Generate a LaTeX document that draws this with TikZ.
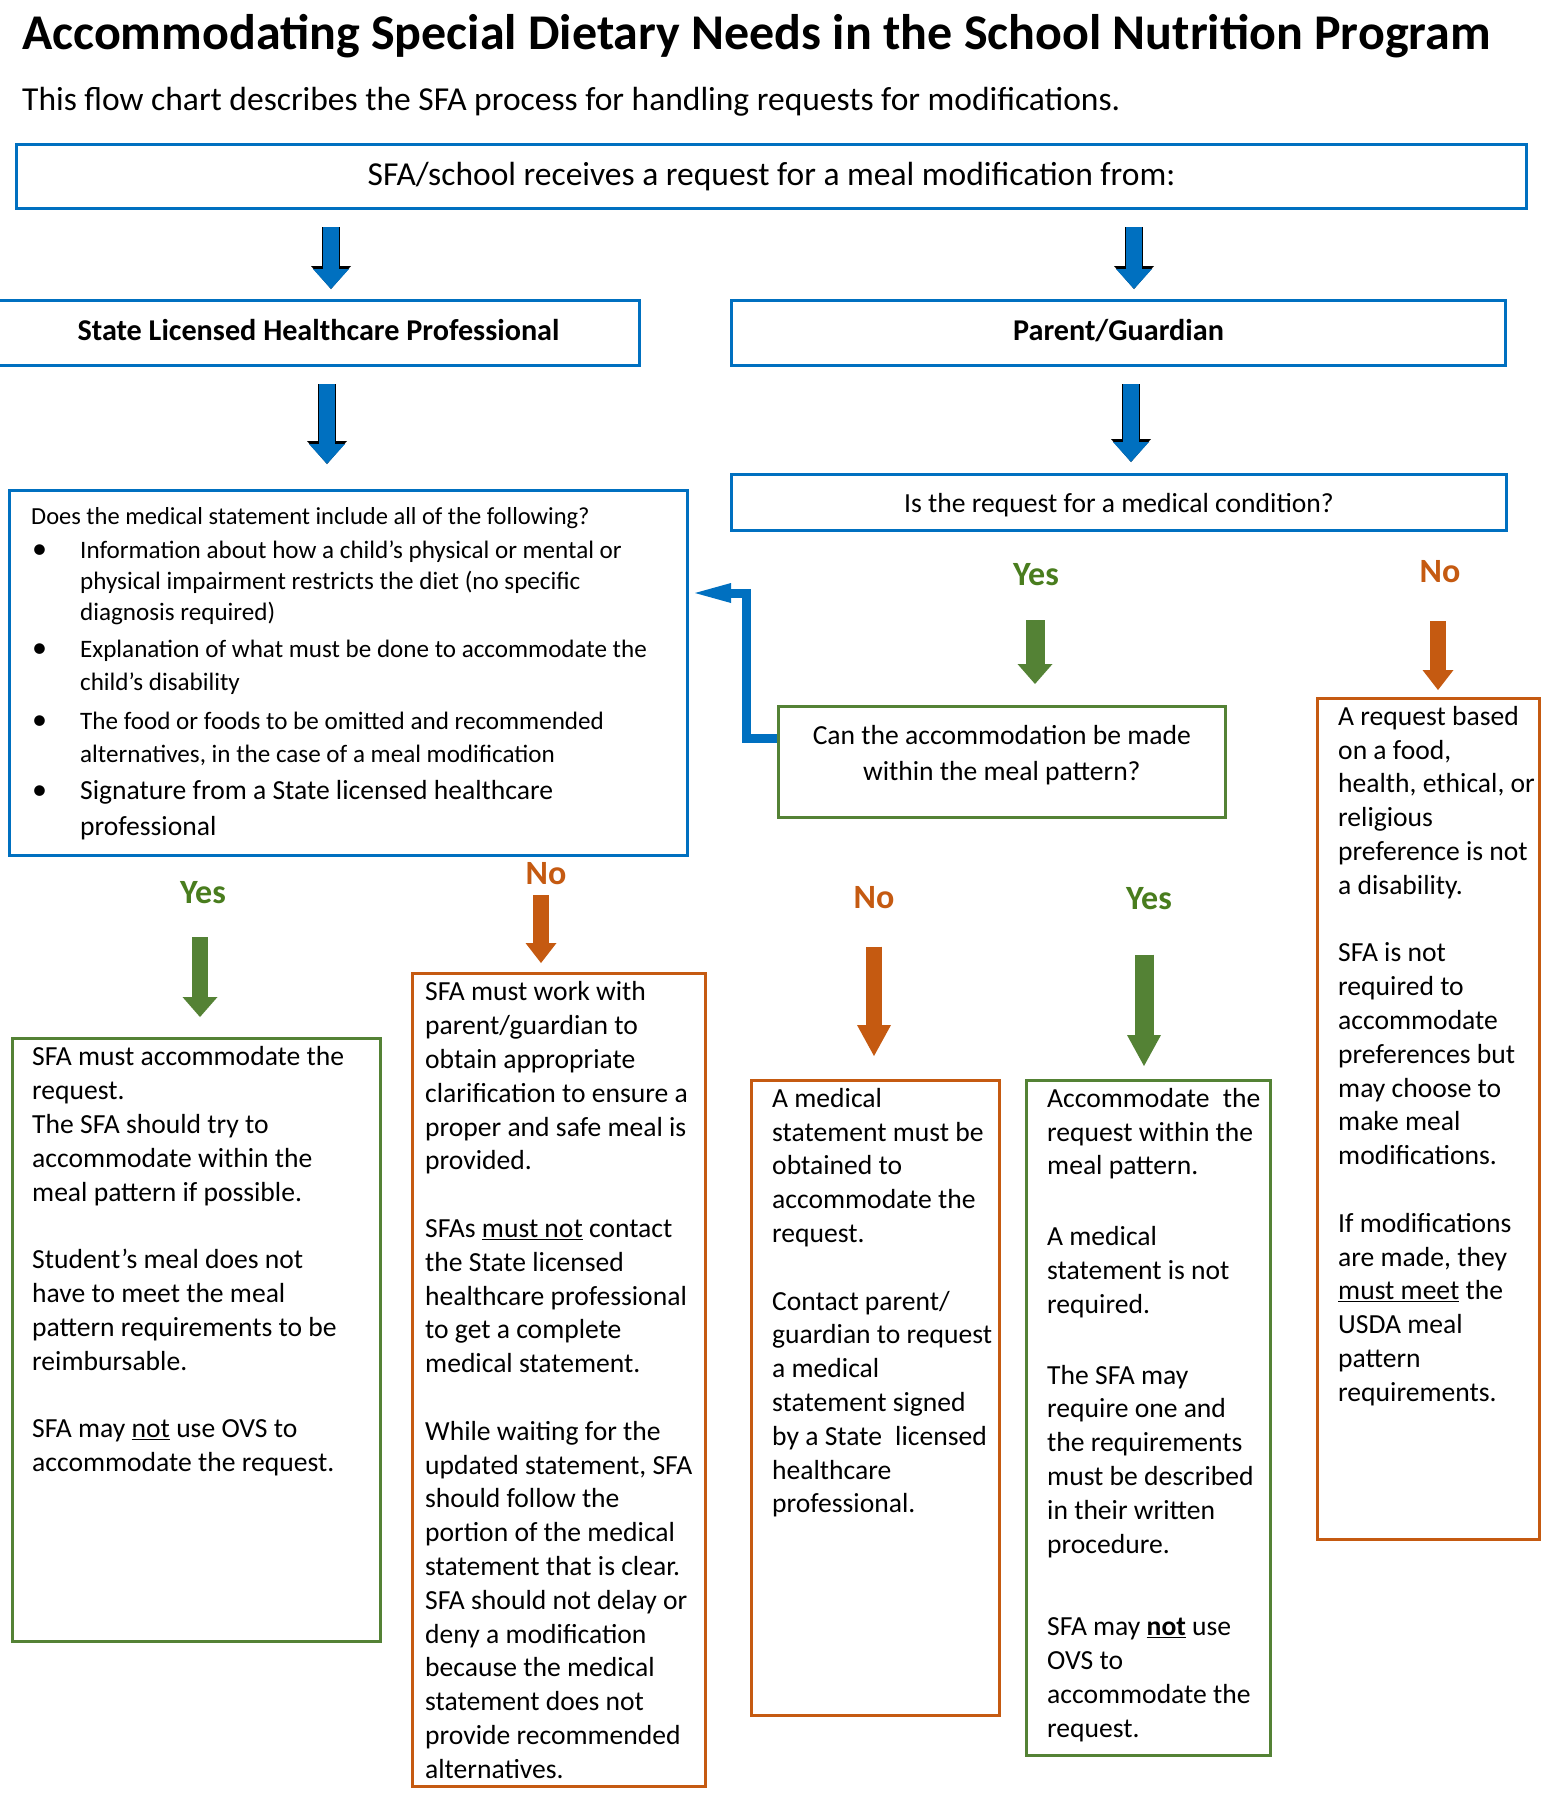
\documentclass[tikz,border=0pt]{standalone}
\usepackage{fontspec}
\setmainfont{Carlito}
\usetikzlibrary{arrows.meta}

\definecolor{boxblue}{HTML}{0070C0}
\definecolor{boxgreen}{HTML}{548235}
\definecolor{boxorange}{HTML}{C55A11}
\definecolor{yesgreen}{HTML}{497D1E}

\newcommand{\itembul}{\makebox[49pt][l]{\hspace{1pt}{\fontsize{30}{31}\selectfont\textbullet}}}
\newcommand{\itemind}{\hspace*{49pt}}

\tikzstyle{bluebox} = [rectangle, draw=boxblue, line width=3pt, anchor=north west, inner sep=0pt]
\tikzstyle{greenbox} = [rectangle, draw=boxgreen, line width=2.6pt, anchor=north west, inner sep=0pt]
\tikzstyle{orangebox} = [rectangle, draw=boxorange, line width=2.6pt, anchor=north west, inner sep=0pt]
\tikzstyle{bodytext} = [anchor=north west, inner sep=0pt, align=left, font=\fontsize{27.6}{33.8}\selectfont]
\tikzstyle{titletext} = [anchor=base west, inner sep=0pt, font=\fontsize{50}{60}\selectfont\bfseries]
\tikzstyle{subtext} = [anchor=base west, inner sep=0pt, font=\fontsize{33.5}{40}\selectfont]
\tikzstyle{yeslabel} = [text=yesgreen, inner sep=0pt, font=\fontsize{34}{40}\selectfont\bfseries]
\tikzstyle{nolabel} = [text=boxorange, inner sep=0pt, font=\fontsize{34}{40}\selectfont\bfseries]
\tikzstyle{bluearrow} = [draw=boxblue, line width=16pt, -{Triangle[width=36pt,length=20pt,line width=0pt]}, preaction={draw=black, line width=18.5pt, -{Triangle[width=40pt,length=23pt,line width=0pt]}}]
\tikzstyle{greenarrow} = [draw=boxgreen, line width=19pt, -{Triangle[width=35pt,length=20pt,line width=0pt]}]
\tikzstyle{orangearrow} = [draw=boxorange, line width=16pt, -{Triangle[width=31pt,length=20pt,line width=0pt]}]
\tikzstyle{longhead} = [-{Triangle[width=34pt,length=31pt,line width=0pt]}]
\tikzstyle{backarrow} = [draw=boxblue, line width=9pt, -{Triangle[width=20pt,length=36pt,line width=0pt]}]

\begin{document}
\begin{tikzpicture}[x=1pt, y=-1pt]
    \path[use as bounding box, fill=white] (0,0) rectangle (1551,1797);

    \node[titletext] (title) at (22,49) {Accommodating Special Dietary Needs in the School Nutrition Program};
    \node[subtext] (subtitle) at (22,110) {This flow chart describes the SFA process for handling requests for modifications.};

    % header boxes
    \node[bluebox, minimum width=1510pt, minimum height=64pt, font=\fontsize{33.5}{40}\selectfont] (top) at (15,143) {SFA/school receives a request for a meal modification from:};
    \node[bluebox, minimum width=642pt, minimum height=65pt, text depth=7pt, font=\fontsize{30.2}{36}\selectfont\bfseries] (slhp) at (-4,299) {State Licensed Healthcare Professional};
    \node[bluebox, minimum width=774pt, minimum height=65pt, text depth=7pt, font=\fontsize{30.2}{36}\selectfont\bfseries] (pg) at (730,299) {Parent/Guardian};
    \node[bluebox, minimum width=775pt, minimum height=56pt, text depth=0pt, font=\fontsize{27.6}{33.8}\selectfont] (medcond) at (730,473) {Is the request for a medical condition?};
    \node[greenbox, minimum width=447pt, minimum height=111pt] (canmake) at (777,705) {};
    \node[align=center, inner sep=0pt, font=\fontsize{27.6}{36}\selectfont] (canmaketext) at ([yshift=7pt]canmake.center) {Can the accommodation be made\\within the meal pattern?};

    % medical statement box
    \node[bluebox, minimum width=678pt, minimum height=365pt] (medq) at (8,489) {};
    \node[bodytext, font=\fontsize{24.5}{31}\selectfont] (medqtext) at ([xshift=23pt,yshift=-13.3pt]medq.north west) {\strut Does the medical statement include all of the following?\\[3pt]
        {\fontsize{25.1}{31}\selectfont\itembul Information about how a child’s physical or mental or}\\
        {\fontsize{25.1}{31}\selectfont\itemind physical impairment restricts the diet (no specific}\\
        {\fontsize{25.1}{31}\selectfont\itemind diagnosis required)}\\[6pt]
        {\fontsize{25.1}{31}\selectfont\itembul Explanation of what must be done to accommodate the}\\[2pt]
        {\fontsize{25.1}{31}\selectfont\itemind child’s disability}\\[8pt]
        {\fontsize{25.1}{31}\selectfont\itembul The food or foods to be omitted and recommended}\\[2pt]
        {\fontsize{25.1}{31}\selectfont\itemind alternatives, in the case of a meal modification}\\[6pt]
        {\fontsize{27.6}{31}\selectfont\itembul Signature from a State licensed healthcare}\\[5pt]
        {\fontsize{27.6}{31}\selectfont\itemind professional}};

    % answer boxes
    \node[greenbox, minimum width=368pt, minimum height=603pt] (yesA) at (11,1037) {};
    \node[bodytext] (yesAtext) at ([xshift=21pt,yshift=-5pt]yesA.north west) {\strut SFA must accommodate the\\
        request.\\
        The SFA should try to\\
        accommodate within the\\
        meal pattern if possible.\\[33.8pt]
        Student’s meal does not\\
        have to meet the meal\\
        pattern requirements to be\\
        reimbursable.\\[33.8pt]
        SFA may \underline{not} use OVS to\\
        accommodate the request.};

    \node[orangebox, minimum width=293pt, minimum height=813pt] (noA) at (411,972) {};
    \node[bodytext] (noAtext) at ([xshift=14pt,yshift=-5pt]noA.north west) {\strut SFA must work with\\
        parent/guardian to\\
        obtain appropriate\\
        clarification to ensure a\\
        proper and safe meal is\\
        provided.\\[33.8pt]
        SFAs \underline{must not} contact\\
        the State licensed\\
        healthcare professional\\
        to get a complete\\
        medical statement.\\[33.8pt]
        While waiting for the\\
        updated statement, SFA\\
        should follow the\\
        portion of the medical\\
        statement that is clear.\\
        SFA should not delay or\\
        deny a modification\\
        because the medical\\
        statement does not\\
        provide recommended\\
        alternatives.};

    \node[orangebox, minimum width=248pt, minimum height=635pt] (noB) at (750,1079) {};
    \node[bodytext] (noBtext) at ([xshift=22pt,yshift=-4.5pt]noB.north west) {\strut A medical\\
        statement must be\\
        obtained to\\
        accommodate the\\
        request.\\[33.8pt]
        Contact parent/\\
        guardian to request\\
        a medical\\
        statement signed\\
        by a State\hspace{7pt} licensed\\
        healthcare\\
        professional.};

    \node[greenbox, minimum width=244pt, minimum height=675pt] (yesB) at (1025,1079) {};
    \node[bodytext] (yesBtext) at ([xshift=22pt,yshift=-4.5pt]yesB.north west) {\strut Accommodate\hspace{7pt} the\\
        request within the\\
        meal pattern.\\[37pt]
        A medical\\
        statement is not\\
        required.\\[37pt]
        The SFA may\\
        require one and\\
        the requirements\\
        must be described\\
        in their written\\
        procedure.\\[49pt]
        SFA may \underline{\textbf{not}} use\\
        OVS to\\
        accommodate the\\
        request.};

    \node[orangebox, minimum width=222pt, minimum height=841pt] (noC) at (1316,697) {};
    \node[bodytext] (noCtext) at ([xshift=22pt,yshift=-4.5pt]noC.north west) {\strut A request based\\
        on a food,\\
        health, ethical, or\\
        religious\\
        preference is not\\
        a disability.\\[33.8pt]
        SFA is not\\
        required to\\
        accommodate\\
        preferences but\\
        may choose to\\
        make meal\\
        modifications.\\[33.8pt]
        If modifications\\
        are made, they\\
        \underline{must meet} the\\
        USDA meal\\
        pattern\\
        requirements.};

    % yes / no labels
    \node[yeslabel] (yes1) at (1036,575) {Yes};
    \node[nolabel] (no1) at (1440,572) {No};
    \node[yeslabel] (yes2) at (203,893) {Yes};
    \node[nolabel] (no2) at (546,874) {No};
    \node[nolabel] (no3) at (874,898) {No};
    \node[yeslabel] (yes3) at (1149,899) {Yes};

    % arrow columns
    \coordinate (c1) at (331,0);
    \coordinate (c2) at (1134,0);
    \coordinate (c3) at (327,0);
    \coordinate (c4) at (1131,0);
    \coordinate (c5) at (1035,0);
    \coordinate (c6) at (1438,0);
    \coordinate (c7) at (200,0);
    \coordinate (c8) at (541,0);
    \coordinate (c9) at (874,0);
    \coordinate (c10) at (1144,0);
    \coordinate (fb) at (746,593);

    \draw[bluearrow, shorten <=17pt, shorten >=10pt] (top.south -| c1) -- (slhp.north -| c1);
    \draw[bluearrow, shorten <=17pt, shorten >=10pt] (top.south -| c2) -- (pg.north -| c2);
    \draw[bluearrow, shorten <=17pt, shorten >=25pt] (slhp.south -| c3) -- (medq.north -| c3);
    \draw[bluearrow, shorten <=17pt, shorten >=11pt] (pg.south -| c4) -- (medcond.north -| c4);
    \draw[greenarrow, shorten <=88pt, shorten >=21pt] (medcond.south -| c5) -- (canmake.north -| c5);
    \draw[orangearrow, shorten <=89pt, shorten >=7pt] (medcond.south -| c6) -- (noC.north -| c6);
    \draw[greenarrow, line width=16pt, shorten <=80pt, shorten >=20pt] (medq.south -| c7) -- (yesA.north -| c7);
    \draw[orangearrow, shorten <=38pt, shorten >=9pt] (medq.south -| c8) -- (noA.north -| c8);
    \draw[orangearrow, longhead, shorten <=128pt, shorten >=23pt] (canmake.south -| c9) -- (noB.north -| c9);
    \draw[greenarrow, longhead, shorten <=136pt, shorten >=13pt] (canmake.south -| c10) -- (yesB.north -| c10);
    \draw[backarrow, shorten >=6pt] ([yshift=23.5pt]canmake.west) -| (fb) -- (medq.east |- fb);
  \end{tikzpicture}
\end{document}
